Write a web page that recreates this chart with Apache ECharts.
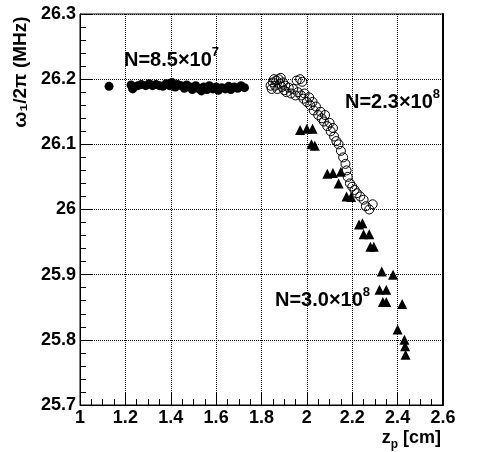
<!DOCTYPE html>
<html>
<head>
<meta charset="utf-8">
<script src="https://cdn.jsdelivr.net/npm/echarts@6/dist/echarts.min.js"></script>
<style>
  html, body { margin: 0; padding: 0; background: #fff; }
  #chart-container { width: 483px; height: 452px; }
</style>
</head>
<body>
<div id="chart-container"></div>
<script>
// N=8.5x10^7 (filled circles)
const lowN = [
    [1.128, 26.189],
    [1.225, 26.191], [1.232, 26.185], [1.255, 26.190], [1.270, 26.192], [1.290, 26.190],
    [1.305, 26.193], [1.320, 26.190], [1.335, 26.192], [1.350, 26.190], [1.365, 26.189],
    [1.380, 26.193], [1.395, 26.190], [1.405, 26.195], [1.420, 26.188], [1.430, 26.192],
    [1.445, 26.190], [1.460, 26.186], [1.470, 26.191], [1.485, 26.188], [1.495, 26.184],
    [1.510, 26.190], [1.520, 26.186], [1.535, 26.182], [1.545, 26.188], [1.560, 26.184],
    [1.570, 26.190], [1.585, 26.185], [1.600, 26.188], [1.610, 26.183], [1.625, 26.187],
    [1.640, 26.185], [1.655, 26.189], [1.665, 26.184], [1.680, 26.188], [1.695, 26.186],
    [1.710, 26.190], [1.725, 26.187]
];

// N=2.3x10^8 (open circles)
const midN = [
    [1.840, 26.190], [1.845, 26.185], [1.850, 26.195], [1.855, 26.200], [1.860, 26.190],
    [1.865, 26.198], [1.870, 26.185], [1.875, 26.200], [1.880, 26.193], [1.885, 26.202],
    [1.890, 26.188], [1.895, 26.195], [1.900, 26.183], [1.905, 26.190], [1.910, 26.180],
    [1.920, 26.187], [1.930, 26.178], [1.940, 26.185], [1.950, 26.175], [1.955, 26.198],
    [1.960, 26.180], [1.970, 26.200], [1.975, 26.175], [1.980, 26.196], [1.985, 26.170],
    [1.990, 26.178], [2.000, 26.165], [2.010, 26.172], [2.015, 26.160], [2.025, 26.165],
    [2.030, 26.152], [2.040, 26.158], [2.050, 26.145], [2.060, 26.150], [2.065, 26.140],
    [2.075, 26.135], [2.080, 26.145], [2.090, 26.128], [2.100, 26.133], [2.105, 26.120],
    [2.115, 26.125], [2.120, 26.112], [2.130, 26.105], [2.140, 26.100], [2.150, 26.090],
    [2.160, 26.080], [2.170, 26.070], [2.175, 26.060], [2.180, 26.050], [2.190, 26.040],
    [2.200, 26.035], [2.210, 26.030], [2.220, 26.025], [2.235, 26.020], [2.250, 26.015],
    [2.260, 26.005], [2.275, 26.000], [2.290, 26.008]
];

// N=3.0x10^8 (filled triangles)
const highN = [
    [1.970, 26.122], [2.000, 26.124], [2.025, 26.124],
    [2.020, 26.100], [2.035, 26.098],
    [2.090, 26.055], [2.115, 26.056], [2.150, 26.058],
    [2.140, 26.040],
    [2.175, 26.020], [2.195, 26.019],
    [2.230, 25.977], [2.245, 25.979],
    [2.250, 25.962], [2.275, 25.962],
    [2.280, 25.943], [2.295, 25.943],
    [2.330, 25.905], [2.380, 25.900],
    [2.320, 25.877], [2.350, 25.877],
    [2.335, 25.858], [2.350, 25.858],
    [2.420, 25.855],
    [2.400, 25.816],
    [2.430, 25.800], [2.433, 25.790],
    [2.435, 25.777]
];

const xRange = [1, 2.6];
const yRange = [25.7, 26.3];

const chartDom = document.getElementById('chart-container');
const myChart = echarts.init(chartDom, null, {renderer: 'canvas'});

const FONT = '"Liberation Sans", Arial, Helvetica, sans-serif';
const gridLine = {show: true, lineStyle: {color: '#000', type: [1, 1], width: 1}};

function label(x, y, main, sup) {
    return {
        type: 'text',
        x: x,
        y: y,
        style: {
            text: '{a|' + main + '}{s|' + sup + '}',
            fill: '#000',
            verticalAlign: 'top',
            rich: {
                a: {fontSize: 20, fontWeight: 'bold', fontFamily: FONT, lineHeight: 24, verticalAlign: 'bottom'},
                s: {fontSize: 13, fontWeight: 'bold', fontFamily: FONT, lineHeight: 24, verticalAlign: 'top'}
            }
        }
    };
}

const option = {
    animation: false,
    backgroundColor: '#fff',
    grid: {
        left: 80,
        right: 40,
        top: 14,
        bottom: 47,
        show: true,
        borderColor: '#000',
        borderWidth: 1,
        outerBoundsMode: 'none'
    },
    xAxis: {
        type: 'value',
        min: xRange[0],
        max: xRange[1],
        interval: 0.2,
        axisLine: {show: true, onZero: false, lineStyle: {color: '#000', width: 1}},
        axisTick: {show: true, inside: true, length: 12, lineStyle: {color: '#000'}},
        minorTick: {show: true, splitNumber: 4, length: 6, lineStyle: {color: '#000'}},
        axisLabel: {color: '#000', fontSize: 18, fontWeight: 'bold', fontFamily: FONT, margin: 4},
        splitLine: gridLine
    },
    yAxis: [{
        type: 'value',
        min: yRange[0],
        max: yRange[1],
        interval: 0.1,
        axisLine: {show: true, onZero: false, lineStyle: {color: '#000', width: 1}},
        axisTick: {show: true, inside: true, length: 12, lineStyle: {color: '#000'}},
        minorTick: {show: true, splitNumber: 5, length: 6, lineStyle: {color: '#000'}},
        axisLabel: {color: '#000', fontSize: 18, fontWeight: 'bold', fontFamily: FONT, margin: 4},
        splitLine: gridLine
    }, {
        type: 'value',
        position: 'right',
        min: yRange[0],
        max: yRange[1],
        axisLine: {show: true, onZero: false, lineStyle: {color: '#000', width: 2}},
        axisTick: {show: false},
        axisLabel: {show: false},
        splitLine: {show: false}
    }],
    series: [{
        name: 'N=8.5e7',
        type: 'scatter',
        data: lowN,
        symbol: 'circle',
        symbolSize: 9,
        itemStyle: {color: '#000', opacity: 1}
    }, {
        name: 'N=2.3e8',
        type: 'scatter',
        data: midN,
        symbol: 'circle',
        symbolSize: 9,
        itemStyle: {color: 'rgba(255,255,255,0)', borderColor: '#000', borderWidth: 1, opacity: 1}
    }, {
        name: 'N=3.0e8',
        type: 'scatter',
        data: highN,
        symbol: 'triangle',
        symbolSize: 10,
        itemStyle: {color: '#000', opacity: 1}
    }],
    graphic: [
        label(124, 46, 'N=8.5×10', '7'),
        label(345, 88, 'N=2.3×10', '8'),
        label(275, 286, 'N=3.0×10', '8'),
        {
            type: 'text',
            x: 21,
            y: 72,
            rotation: Math.PI / 2,
            style: {
                text: 'ω₁/2π (MHz)',
                fill: '#000',
                font: 'bold 19px ' + FONT,
                align: 'center',
                verticalAlign: 'middle'
            }
        },
        {
            type: 'text',
            x: 441,
            y: 429,
            style: {
                text: '{a|z}{b|p}{a| [cm]}',
                fill: '#000',
                align: 'right',
                verticalAlign: 'top',
                rich: {
                    a: {fontSize: 18, fontWeight: 'bold', fontFamily: FONT, lineHeight: 22, verticalAlign: 'top'},
                    b: {fontSize: 12, fontWeight: 'bold', fontFamily: FONT, lineHeight: 22, verticalAlign: 'bottom'}
                }
            }
        }
    ]
};

myChart.setOption(option);
</script>
</body>
</html>
